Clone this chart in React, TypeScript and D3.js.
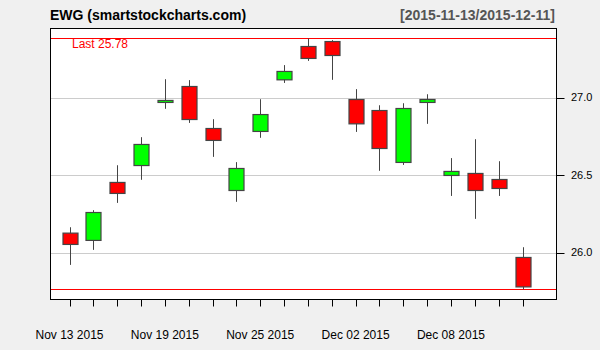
import React from "react";
import * as d3 from "d3";

const dates = ["2015-11-13","2015-11-16","2015-11-17","2015-11-18","2015-11-19","2015-11-20","2015-11-23","2015-11-24","2015-11-25","2015-11-27","2015-11-30","2015-12-01","2015-12-02","2015-12-03","2015-12-04","2015-12-07","2015-12-08","2015-12-09","2015-12-10","2015-12-11"];
const openVals = [26.125, 26.078, 26.452, 26.561, 26.968, 27.071, 26.80, 26.40, 26.781, 27.114, 27.329, 27.361, 26.987, 26.916, 26.581, 26.968, 26.497, 26.51, 26.471, 25.968];
const closeVals = [26.052, 26.258, 26.381, 26.697, 26.981, 26.858, 26.723, 26.542, 26.89, 27.168, 27.252, 27.271, 26.83, 26.671, 26.929, 26.987, 26.523, 26.40, 26.413, 25.778];
const highVals = [26.163, 26.273, 26.563, 26.744, 27.118, 27.112, 26.86, 26.583, 26.989, 27.209, 27.381, 27.37, 27.054, 26.95, 26.963, 27.021, 26.609, 26.731, 26.589, 26.034];
const lowVals = [25.92, 26.017, 26.32, 26.469, 26.927, 26.836, 26.617, 26.327, 26.74, 27.094, 27.236, 27.114, 26.778, 26.527, 26.565, 26.83, 26.365, 26.217, 26.365, 25.762];
const yTicks = [26.0, 26.5, 27.0];
const xLabelIdx = [0, 4, 8, 12, 16];
const title = "EWG (smartstockcharts.com)";
const rangeLabel = "[2015-11-13/2015-12-11]";

const W = 600, H = 350;
const L = 50.5, R = 556.5, T = 28.5, B = 299.5;
const FONT = "'Liberation Sans', Arial, Helvetica, sans-serif";

export default function App() {
  const x = d3.scaleLinear().domain([0, dates.length - 1]).range([69.5, 522.5]);
  const y = d3.scaleLinear().domain([26.0, 27.0]).range([252.5, 97.5]);
  const fmtDate = d3.utcFormat("%b %d %Y");
  const parse = d3.utcParse("%Y-%m-%d");
  const maxHigh = d3.max(highVals) as number;
  const minLow = d3.min(lowVals) as number;
  const last = closeVals[closeVals.length - 1];
  const bw = 15;

  return (
    <svg width={W} height={H} style={{ position: "absolute", left: 0, top: 0, fontFamily: FONT }}>
      <rect x={0} y={0} width={W} height={H} fill="#F0F0F0" />
      <rect x={L} y={T} width={R - L} height={B - T} fill="#FFFFFF" />
      {yTicks.map((t) => (
        <g key={t}>
          <line x1={L} x2={R} y1={Math.round(y(t)) + 0.5} y2={Math.round(y(t)) + 0.5} stroke="#CCCCCC" strokeWidth={1} />
          <line x1={R} x2={R + 8} y1={Math.round(y(t)) + 0.5} y2={Math.round(y(t)) + 0.5} stroke="#000" strokeWidth={1} />
          <text x={571} y={y(t)} dy="0.36em" fontSize={11} fill="#000">{t.toFixed(1)}</text>
        </g>
      ))}
      <line x1={L} x2={R} y1={Math.round(y(maxHigh)) + 0.5} y2={Math.round(y(maxHigh)) + 0.5} stroke="#FF0000" strokeWidth={1} />
      <line x1={L} x2={R} y1={Math.round(y(minLow)) + 0.5} y2={Math.round(y(minLow)) + 0.5} stroke="#FF0000" strokeWidth={1} />
      <text x={72} y={48} fontSize={12} fill="#FF0000">{`Last ${last.toFixed(2)}`}</text>
      {dates.map((d, i) => {
        const cx = Math.round(x(i)) + 0.5;
        const up = closeVals[i] >= openVals[i];
        const top = y(Math.max(openVals[i], closeVals[i]));
        const bot = y(Math.min(openVals[i], closeVals[i]));
        return (
          <g key={d}>
            <line x1={cx} x2={cx} y1={y(highVals[i])} y2={y(lowVals[i])} stroke="#444444" strokeWidth={1} />
            <rect x={cx - bw / 2} y={top} width={bw} height={Math.max(bot - top, 1.5)} fill={up ? "#00FF00" : "#FF0000"} stroke="#444444" strokeWidth={1.2} />
            <line x1={cx} x2={cx} y1={B} y2={B + 7} stroke="#000" strokeWidth={1} />
          </g>
        );
      })}
      {xLabelIdx.map((i) => (
        <text key={i} x={x(i)} y={339} fontSize={12} textAnchor="middle" fill="#000">{fmtDate(parse(dates[i]) as Date)}</text>
      ))}
      <rect x={L} y={T} width={R - L} height={B - T} fill="none" stroke="#000" strokeWidth={1} />
      <text x={50} y={20} fontSize={14} fontWeight="bold" fill="#000">{title}</text>
      <text x={555} y={20} fontSize={14} fontWeight="bold" textAnchor="end" fill="#555555">{rangeLabel}</text>
    </svg>
  );
}
